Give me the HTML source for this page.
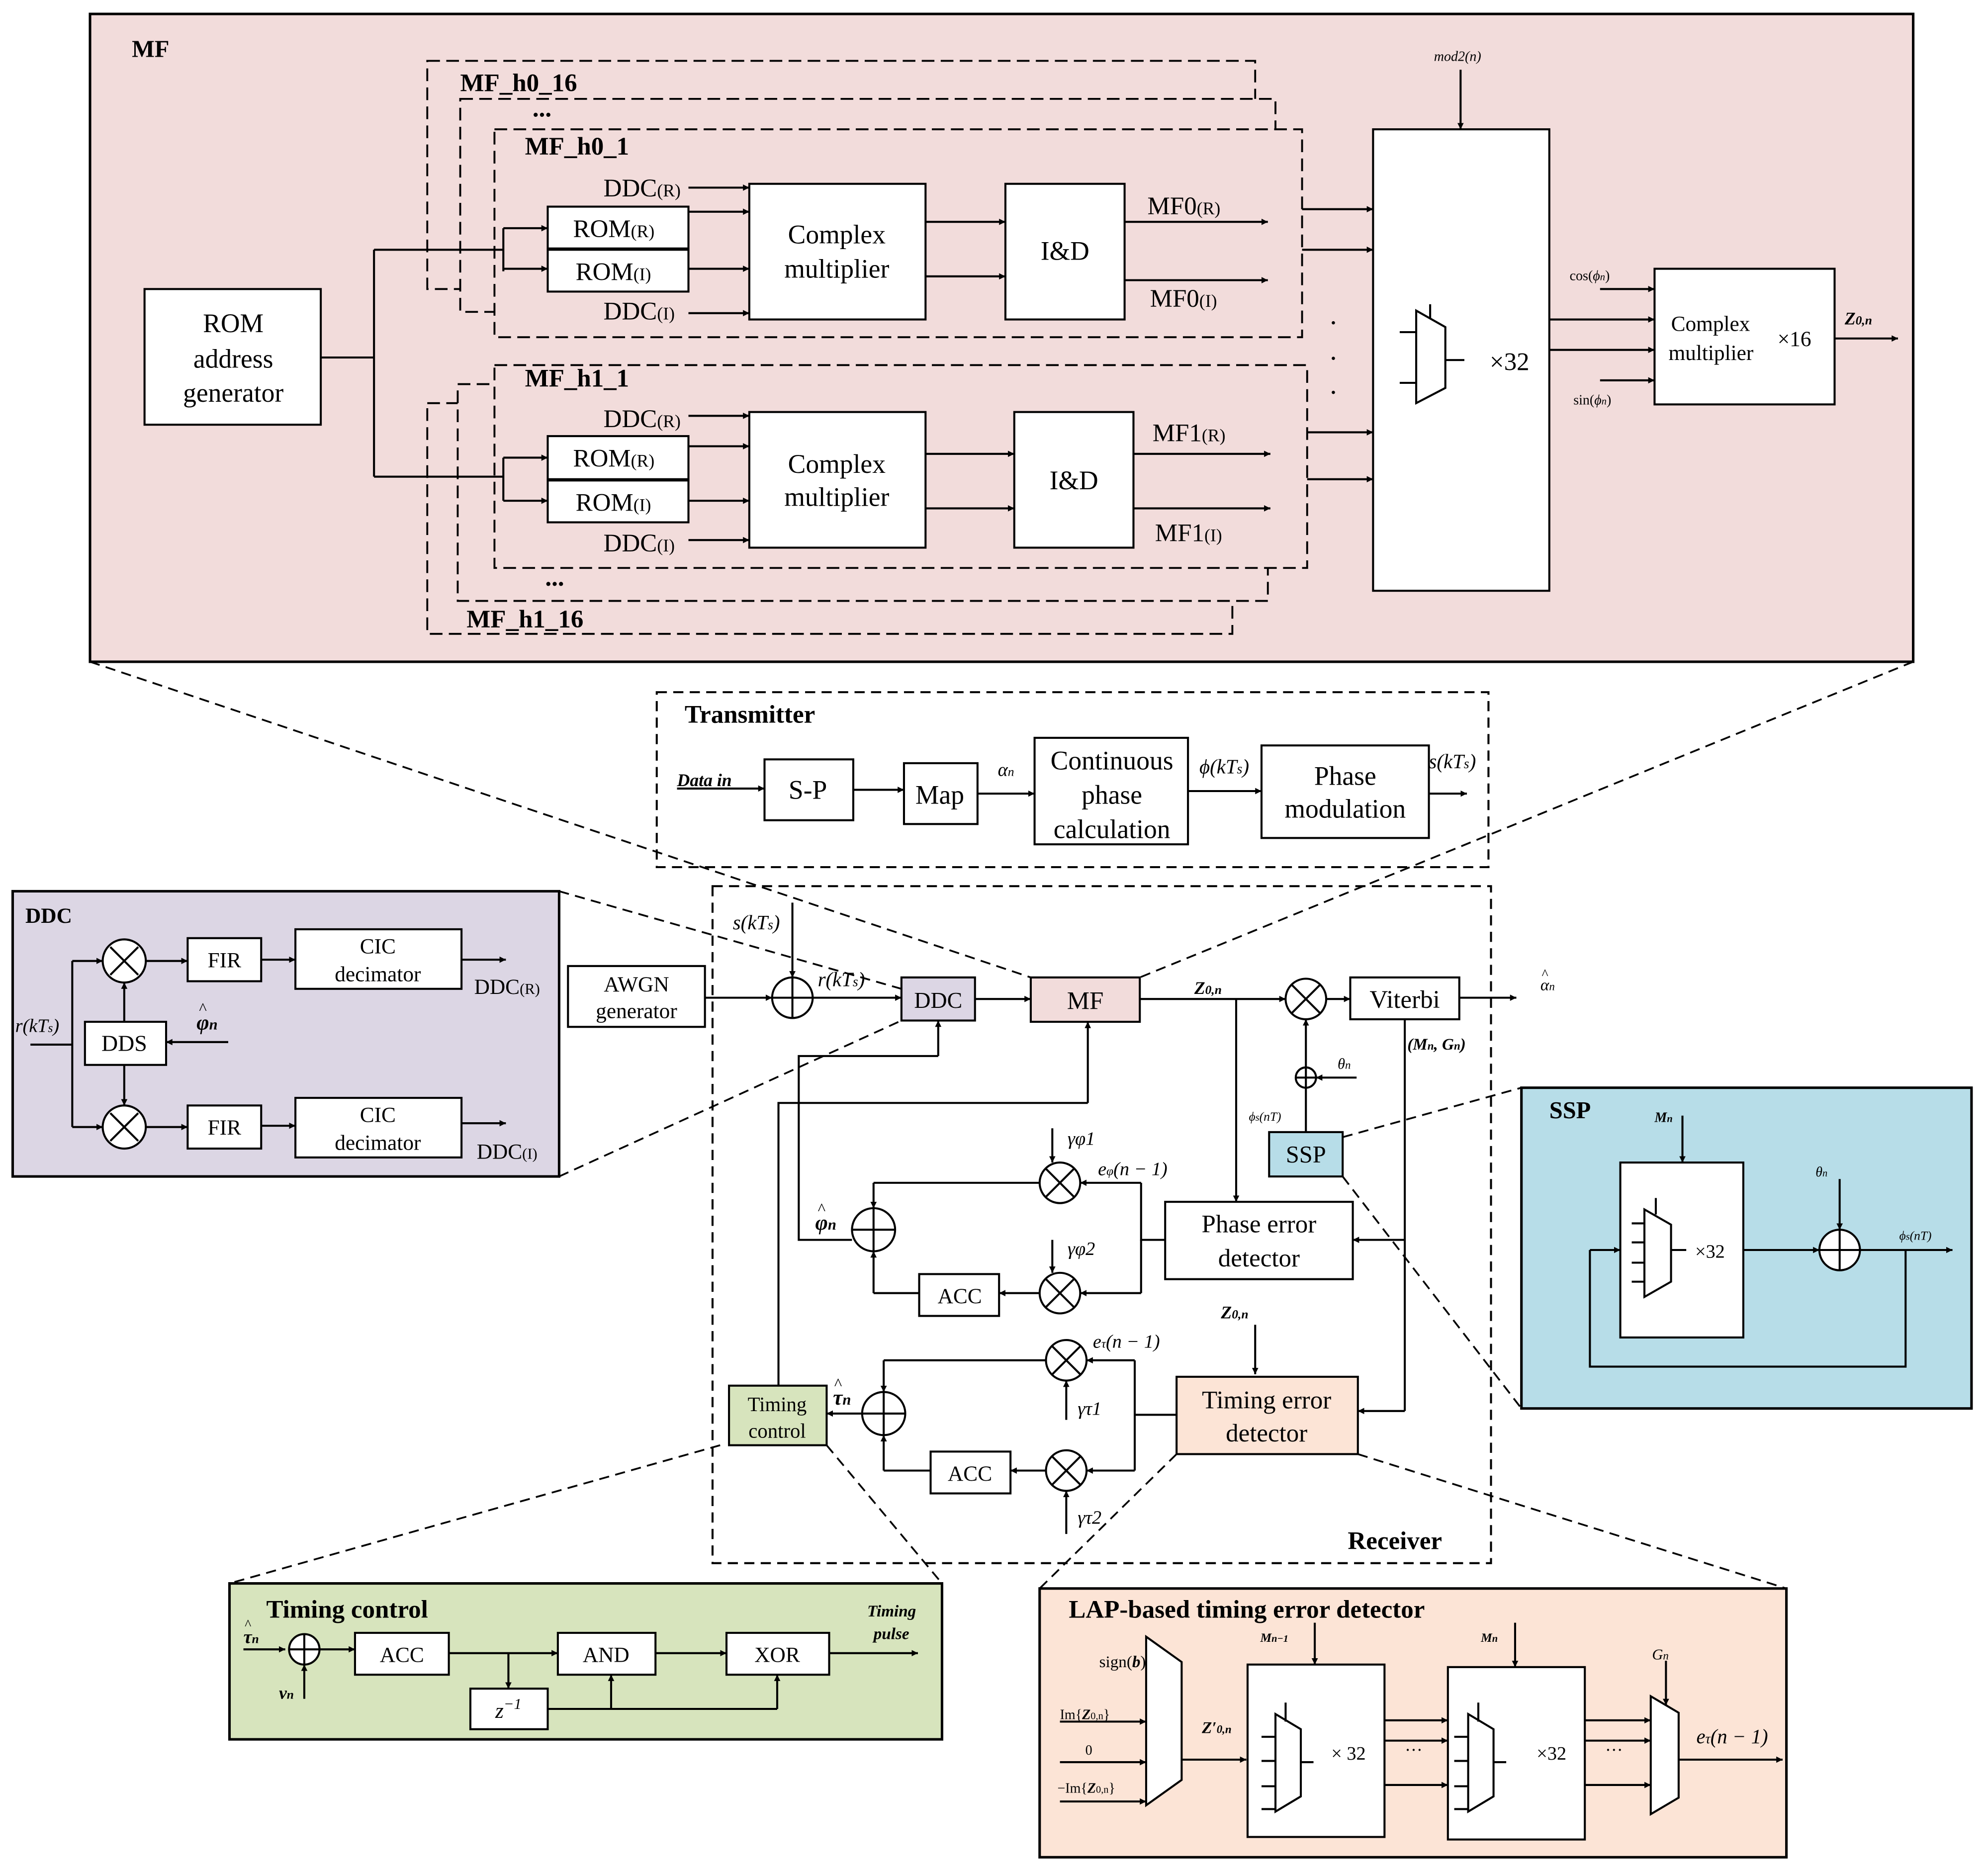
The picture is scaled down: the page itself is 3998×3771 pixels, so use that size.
<!DOCTYPE html>
<html><head><meta charset="utf-8"><style>
html,body{margin:0;padding:0;background:#fff}
svg{display:block}
text{font-family:"Liberation Serif",serif;fill:#000}
.b{font-weight:bold}
.i{font-style:italic}
</style></head><body>
<svg width="3998" height="3771" viewBox="0 0 1568 1479" preserveAspectRatio="none" xmlns="http://www.w3.org/2000/svg">
<defs>
<marker id="a" viewBox="0 0 10 10" refX="10" refY="5" markerWidth="5" markerHeight="5" orient="auto-start-reverse" markerUnits="userSpaceOnUse"><path d="M0,0 L10,5 L0,10 z" fill="#000"/></marker>
</defs>
<g stroke="#000" stroke-width="1.6" fill="none">
<g stroke-dasharray="8,5" stroke-width="1.4">
<line x1="71" y1="522" x2="813" y2="771"/><line x1="1509" y1="522" x2="899" y2="771"/>
<line x1="441" y1="703" x2="711" y2="780"/><line x1="441" y1="928" x2="711" y2="805"/>
<line x1="1059" y1="897" x2="1200" y2="858"/><line x1="1059" y1="928" x2="1200" y2="1111"/>
<line x1="568" y1="1140" x2="181" y2="1249"/><line x1="652" y1="1140" x2="743" y2="1249"/>
<line x1="928" y1="1147" x2="820" y2="1253"/><line x1="1071" y1="1147" x2="1409" y2="1253"/>
</g>
<rect x="71" y="11" width="1438" height="511" fill="#f2dcdb" stroke-width="2"/>
<g stroke-dasharray="10,5" fill="#f2dcdb" stroke-width="1.5">
<rect x="337" y="48" width="653" height="180"/><rect x="363" y="78" width="643" height="168"/><rect x="390" y="102" width="637" height="164"/>
<rect x="337" y="318" width="635" height="182"/><rect x="361" y="303" width="639" height="171"/><rect x="390" y="288" width="641" height="160"/>
</g>
<rect x="114" y="228" width="139" height="107" fill="#fff"/>
<polyline points="253,282 295,282"/><polyline points="295,197 295,376"/>
<polyline points="295,197 397,197"/><polyline points="295,376 397,376"/>
<polyline points="397,180 397,214"/><line x1="397" y1="180" x2="432" y2="180" marker-end="url(#a)"/><line x1="397" y1="212" x2="432" y2="212" marker-end="url(#a)"/>
<polyline points="397,361 397,395"/><line x1="397" y1="361" x2="432" y2="361" marker-end="url(#a)"/><line x1="397" y1="395" x2="432" y2="395" marker-end="url(#a)"/>
<rect x="432" y="163" width="111" height="33" fill="#fff"/><rect x="432" y="197" width="111" height="33" fill="#fff"/>
<rect x="591" y="145" width="139" height="107" fill="#fff"/><rect x="793" y="145" width="94" height="107" fill="#fff"/>
<line x1="543" y1="148" x2="591" y2="148" marker-end="url(#a)"/><line x1="543" y1="247" x2="591" y2="247" marker-end="url(#a)"/>
<line x1="543" y1="167" x2="591" y2="167" marker-end="url(#a)"/><line x1="543" y1="212" x2="591" y2="212" marker-end="url(#a)"/>
<line x1="730" y1="175" x2="793" y2="175" marker-end="url(#a)"/><line x1="730" y1="218" x2="793" y2="218" marker-end="url(#a)"/>
<line x1="887" y1="175" x2="1000" y2="175" marker-end="url(#a)"/><line x1="887" y1="221" x2="1000" y2="221" marker-end="url(#a)"/>
<rect x="432" y="344" width="111" height="34" fill="#fff"/><rect x="432" y="379" width="111" height="33" fill="#fff"/>
<rect x="591" y="325" width="139" height="107" fill="#fff"/><rect x="800" y="325" width="94" height="107" fill="#fff"/>
<line x1="543" y1="328" x2="591" y2="328" marker-end="url(#a)"/><line x1="543" y1="426" x2="591" y2="426" marker-end="url(#a)"/>
<line x1="543" y1="352" x2="591" y2="352" marker-end="url(#a)"/><line x1="543" y1="395" x2="591" y2="395" marker-end="url(#a)"/>
<line x1="730" y1="358" x2="800" y2="358" marker-end="url(#a)"/><line x1="730" y1="401" x2="800" y2="401" marker-end="url(#a)"/>
<line x1="894" y1="358" x2="1002" y2="358" marker-end="url(#a)"/><line x1="894" y1="401" x2="1002" y2="401" marker-end="url(#a)"/>
<rect x="1083" y="102" width="139" height="364" fill="#fff"/>
<line x1="1027" y1="165" x2="1083" y2="165" marker-end="url(#a)"/><line x1="1027" y1="197" x2="1083" y2="197" marker-end="url(#a)"/>
<line x1="1031" y1="341" x2="1083" y2="341" marker-end="url(#a)"/><line x1="1031" y1="378" x2="1083" y2="378" marker-end="url(#a)"/>
<line x1="1152" y1="55" x2="1152" y2="102" marker-end="url(#a)"/>
<polygon points="1117,245 1140,258 1140,306 1117,318"/><line x1="1128" y1="240" x2="1128" y2="251"/><line x1="1140" y1="284" x2="1155" y2="284"/>
<line x1="1104" y1="262" x2="1117" y2="262"/><line x1="1104" y1="302" x2="1117" y2="302"/>
<line x1="1262" y1="228" x2="1305" y2="228" marker-end="url(#a)"/><line x1="1222" y1="252" x2="1305" y2="252" marker-end="url(#a)"/>
<line x1="1222" y1="276" x2="1305" y2="276" marker-end="url(#a)"/><line x1="1262" y1="300" x2="1305" y2="300" marker-end="url(#a)"/>
<rect x="1305" y="212" width="142" height="107" fill="#fff"/>
<line x1="1447" y1="267" x2="1497" y2="267" marker-end="url(#a)"/>
<rect x="518" y="546" width="656" height="138" stroke-dasharray="8,5"/>
<rect x="603" y="599" width="70" height="48" fill="#fff"/><rect x="713" y="602" width="58" height="48" fill="#fff"/>
<rect x="816" y="582" width="121" height="84" fill="#fff"/><rect x="995" y="588" width="132" height="73" fill="#fff"/>
<line x1="534" y1="622" x2="603" y2="622" marker-end="url(#a)"/><line x1="673" y1="623" x2="713" y2="623" marker-end="url(#a)"/>
<line x1="771" y1="626" x2="816" y2="626" marker-end="url(#a)"/><line x1="937" y1="624" x2="995" y2="624" marker-end="url(#a)"/>
<line x1="1127" y1="626" x2="1157" y2="626" marker-end="url(#a)"/>
<rect x="562" y="699" width="614" height="534" stroke-dasharray="8,5"/>
<rect x="448" y="762" width="108" height="48" fill="#fff"/>
<line x1="556" y1="787" x2="609" y2="787" marker-end="url(#a)"/>
<circle cx="625" cy="787" r="16" fill="#fff"/><line x1="609" y1="787" x2="641" y2="787"/><line x1="625" y1="771" x2="625" y2="803"/>
<line x1="625" y1="712" x2="625" y2="771" marker-end="url(#a)"/>
<line x1="641" y1="787" x2="711" y2="787" marker-end="url(#a)"/>
<rect x="711" y="771" width="58" height="34" fill="#dcd6e4"/>
<line x1="769" y1="788" x2="813" y2="788" marker-end="url(#a)"/>
<rect x="813" y="771" width="86" height="35" fill="#f2dcdb"/>
<line x1="899" y1="788" x2="1014" y2="788" marker-end="url(#a)"/>
<circle cx="1030" cy="788" r="16" fill="#fff"/><line x1="1019" y1="777" x2="1041" y2="799"/><line x1="1041" y1="777" x2="1019" y2="799"/>
<line x1="1046" y1="788" x2="1065" y2="788" marker-end="url(#a)"/>
<rect x="1065" y="771" width="86" height="33" fill="#fff"/>
<line x1="1151" y1="787" x2="1196" y2="787" marker-end="url(#a)"/>
<line x1="975" y1="788" x2="975" y2="948" marker-end="url(#a)"/>
<rect x="919" y="948" width="148" height="61" fill="#fff"/>
<rect x="1001" y="893" width="58" height="35" fill="#b7dde8"/>
<line x1="1030" y1="893" x2="1030" y2="858"/>
<circle cx="1030" cy="850" r="8" fill="#fff"/><line x1="1022" y1="850" x2="1038" y2="850"/><line x1="1030" y1="842" x2="1030" y2="858"/>
<line x1="1030" y1="842" x2="1030" y2="804" marker-end="url(#a)"/>
<line x1="1070" y1="850" x2="1038" y2="850" marker-end="url(#a)"/>
<polyline points="1108,804 1108,1113"/>
<line x1="1108" y1="978" x2="1067" y2="978" marker-end="url(#a)"/>
<line x1="1108" y1="1113" x2="1071" y2="1113" marker-end="url(#a)"/>
<polyline points="919,978 900,978 900,933"/><line x1="900" y1="933" x2="852" y2="933" marker-end="url(#a)"/>
<polyline points="900,978 900,1020"/><line x1="900" y1="1020" x2="852" y2="1020" marker-end="url(#a)"/>
<circle cx="836" cy="933" r="16" fill="#fff"/><line x1="825" y1="922" x2="847" y2="944"/><line x1="847" y1="922" x2="825" y2="944"/>
<circle cx="836" cy="1020" r="16" fill="#fff"/><line x1="825" y1="1009" x2="847" y2="1031"/><line x1="847" y1="1009" x2="825" y2="1031"/>
<line x1="830" y1="890" x2="830" y2="917" marker-end="url(#a)"/><line x1="830" y1="978" x2="830" y2="1004" marker-end="url(#a)"/>
<polyline points="820,933 689,933"/><line x1="689" y1="933" x2="689" y2="953" marker-end="url(#a)"/>
<line x1="820" y1="1020" x2="788" y2="1020" marker-end="url(#a)"/>
<rect x="725" y="1005" width="63" height="33" fill="#fff"/>
<polyline points="725,1020 689,1020"/><line x1="689" y1="1020" x2="689" y2="987" marker-end="url(#a)"/>
<circle cx="689" cy="970" r="17" fill="#fff"/><line x1="672" y1="970" x2="706" y2="970"/><line x1="689" y1="953" x2="689" y2="987"/>
<polyline points="672,978 630,978 630,833 740,833"/><line x1="740" y1="833" x2="740" y2="805" marker-end="url(#a)"/>
<rect x="928" y="1086" width="143" height="61" fill="#fce4d6"/>
<line x1="990" y1="1045" x2="990" y2="1084" marker-end="url(#a)"/>
<polyline points="928,1116 895,1116 895,1073"/><line x1="895" y1="1073" x2="857" y2="1073" marker-end="url(#a)"/>
<polyline points="895,1116 895,1160"/><line x1="895" y1="1160" x2="857" y2="1160" marker-end="url(#a)"/>
<circle cx="841" cy="1073" r="16" fill="#fff"/><line x1="830" y1="1062" x2="852" y2="1084"/><line x1="852" y1="1062" x2="830" y2="1084"/>
<circle cx="841" cy="1160" r="16" fill="#fff"/><line x1="830" y1="1149" x2="852" y2="1171"/><line x1="852" y1="1149" x2="830" y2="1171"/>
<line x1="841" y1="1120" x2="841" y2="1089" marker-end="url(#a)"/><line x1="841" y1="1210" x2="841" y2="1176" marker-end="url(#a)"/>
<polyline points="825,1073 697,1073"/><line x1="697" y1="1073" x2="697" y2="1098" marker-end="url(#a)"/>
<line x1="825" y1="1160" x2="797" y2="1160" marker-end="url(#a)"/>
<rect x="734" y="1145" width="63" height="33" fill="#fff"/>
<polyline points="734,1160 697,1160"/><line x1="697" y1="1160" x2="697" y2="1132" marker-end="url(#a)"/>
<circle cx="697" cy="1115" r="17" fill="#fff"/><line x1="680" y1="1115" x2="714" y2="1115"/><line x1="697" y1="1098" x2="697" y2="1132"/>
<line x1="680" y1="1115" x2="652" y2="1115" marker-end="url(#a)"/>
<rect x="575" y="1093" width="77" height="47" fill="#d7e4bd"/>
<polyline points="614,1093 614,870 858,870"/><line x1="858" y1="870" x2="858" y2="806" marker-end="url(#a)"/>
<rect x="10" y="703" width="431" height="225" fill="#dcd6e4" stroke-width="2"/>
<line x1="24" y1="824" x2="57" y2="824"/><polyline points="57,758 57,889"/>
<line x1="57" y1="758" x2="81" y2="758" marker-end="url(#a)"/><line x1="57" y1="889" x2="81" y2="889" marker-end="url(#a)"/>
<circle cx="98" cy="758" r="17" fill="#fff"/><line x1="87" y1="747" x2="109" y2="769"/><line x1="109" y1="747" x2="87" y2="769"/>
<circle cx="98" cy="889" r="17" fill="#fff"/><line x1="87" y1="878" x2="109" y2="900"/><line x1="109" y1="878" x2="87" y2="900"/>
<rect x="67" y="806" width="64" height="34" fill="#fff"/>
<line x1="98" y1="806" x2="98" y2="775" marker-end="url(#a)"/><line x1="98" y1="840" x2="98" y2="872" marker-end="url(#a)"/>
<line x1="180" y1="822" x2="131" y2="822" marker-end="url(#a)"/>
<line x1="115" y1="758" x2="148" y2="758" marker-end="url(#a)"/><line x1="115" y1="889" x2="148" y2="889" marker-end="url(#a)"/>
<rect x="148" y="740" width="58" height="34" fill="#fff"/><rect x="148" y="872" width="58" height="34" fill="#fff"/>
<line x1="206" y1="757" x2="233" y2="757" marker-end="url(#a)"/><line x1="206" y1="888" x2="233" y2="888" marker-end="url(#a)"/>
<rect x="233" y="733" width="131" height="47" fill="#fff"/><rect x="233" y="866" width="131" height="47" fill="#fff"/>
<line x1="364" y1="757" x2="399" y2="757" marker-end="url(#a)"/><line x1="364" y1="886" x2="399" y2="886" marker-end="url(#a)"/>
<rect x="1200" y="858" width="355" height="253" fill="#b7dde8" stroke-width="2"/>
<line x1="1327" y1="880" x2="1327" y2="917" marker-end="url(#a)"/>
<rect x="1278" y="917" width="97" height="138" fill="#fff"/>
<polygon points="1297,954 1318,966 1318,1011 1297,1023"/><line x1="1306" y1="945" x2="1306" y2="958"/>
<line x1="1287" y1="965" x2="1297" y2="965"/><line x1="1287" y1="980" x2="1297" y2="980"/><line x1="1287" y1="996" x2="1297" y2="996"/><line x1="1287" y1="1011" x2="1297" y2="1011"/>
<line x1="1318" y1="986" x2="1330" y2="986"/>
<line x1="1375" y1="986" x2="1435" y2="986" marker-end="url(#a)"/>
<circle cx="1451" cy="986" r="16" fill="#fff"/><line x1="1435" y1="986" x2="1467" y2="986"/><line x1="1451" y1="970" x2="1451" y2="1002"/>
<line x1="1451" y1="930" x2="1451" y2="970" marker-end="url(#a)"/>
<line x1="1467" y1="986" x2="1540" y2="986" marker-end="url(#a)"/>
<polyline points="1503,986 1503,1078 1254,1078 1254,986"/><line x1="1254" y1="986" x2="1278" y2="986" marker-end="url(#a)"/>
<rect x="181" y="1249" width="562" height="123" fill="#d7e4bd" stroke-width="2"/>
<line x1="192" y1="1301" x2="225" y2="1301" marker-end="url(#a)"/>
<circle cx="240" cy="1301" r="12" fill="#fff"/><line x1="228" y1="1301" x2="252" y2="1301"/><line x1="240" y1="1289" x2="240" y2="1313"/>
<line x1="240" y1="1340" x2="240" y2="1313" marker-end="url(#a)"/>
<line x1="252" y1="1301" x2="280" y2="1301" marker-end="url(#a)"/>
<rect x="280" y="1288" width="74" height="33" fill="#fff"/>
<line x1="354" y1="1304" x2="440" y2="1304" marker-end="url(#a)"/>
<line x1="401" y1="1304" x2="401" y2="1332" marker-end="url(#a)"/>
<rect x="371" y="1332" width="61" height="32" fill="#fff"/>
<polyline points="432,1348 613,1348"/><line x1="482" y1="1348" x2="482" y2="1321" marker-end="url(#a)"/><line x1="613" y1="1348" x2="613" y2="1321" marker-end="url(#a)"/>
<rect x="440" y="1288" width="77" height="33" fill="#fff"/>
<line x1="517" y1="1304" x2="573" y2="1304" marker-end="url(#a)"/>
<rect x="573" y="1288" width="81" height="33" fill="#fff"/>
<line x1="654" y1="1304" x2="724" y2="1304" marker-end="url(#a)"/>
<rect x="820" y="1253" width="589" height="212" fill="#fce4d6" stroke-width="2"/>
<line x1="924" y1="1318" x2="924" y2="1344" marker-end="url(#a)"/>
<polygon points="904,1291 932,1311 932,1404 904,1424" fill="#fff"/>
<line x1="836" y1="1358" x2="904" y2="1358" marker-end="url(#a)"/><line x1="836" y1="1390" x2="904" y2="1390" marker-end="url(#a)"/><line x1="836" y1="1421" x2="904" y2="1421" marker-end="url(#a)"/>
<line x1="932" y1="1388" x2="983" y2="1388" marker-end="url(#a)"/>
<rect x="984" y="1313" width="108" height="136" fill="#fff"/>
<line x1="1037" y1="1280" x2="1037" y2="1313" marker-end="url(#a)"/>
<polygon points="1006,1352 1026,1364 1026,1417 1006,1429"/><line x1="1014" y1="1343" x2="1014" y2="1358"/>
<line x1="995" y1="1370" x2="1006" y2="1370"/><line x1="995" y1="1389" x2="1006" y2="1389"/><line x1="995" y1="1409" x2="1006" y2="1409"/><line x1="995" y1="1427" x2="1006" y2="1427"/>
<line x1="1026" y1="1390" x2="1036" y2="1390"/>
<line x1="1092" y1="1357" x2="1142" y2="1357" marker-end="url(#a)"/><line x1="1092" y1="1373" x2="1142" y2="1373" marker-end="url(#a)"/><line x1="1092" y1="1408" x2="1142" y2="1408" marker-end="url(#a)"/>
<rect x="1142" y="1315" width="108" height="136" fill="#fff"/>
<line x1="1195" y1="1280" x2="1195" y2="1315" marker-end="url(#a)"/>
<polygon points="1158,1352 1178,1364 1178,1417 1158,1429"/><line x1="1166" y1="1343" x2="1166" y2="1358"/>
<line x1="1147" y1="1370" x2="1158" y2="1370"/><line x1="1147" y1="1389" x2="1158" y2="1389"/><line x1="1147" y1="1409" x2="1158" y2="1409"/><line x1="1147" y1="1427" x2="1158" y2="1427"/>
<line x1="1178" y1="1390" x2="1188" y2="1390"/>
<line x1="1250" y1="1357" x2="1302" y2="1357" marker-end="url(#a)"/><line x1="1250" y1="1373" x2="1302" y2="1373" marker-end="url(#a)"/><line x1="1250" y1="1408" x2="1302" y2="1408" marker-end="url(#a)"/>
<line x1="1314" y1="1310" x2="1314" y2="1345" marker-end="url(#a)"/>
<polygon points="1302,1338 1324,1351 1324,1418 1302,1431" fill="#fff"/>
<line x1="1324" y1="1388" x2="1406" y2="1388" marker-end="url(#a)"/>
</g>
<g font-size="20">
<text x="104" y="45" class="b" font-size="19">MF</text>
<text x="363" y="72" class="b">MF_h0_16</text><text x="420" y="92" class="b">...</text>
<text x="414" y="122" class="b">MF_h0_1</text><text x="414" y="305" class="b">MF_h1_1</text>
<text x="430" y="462" class="b">...</text><text x="368" y="495" class="b">MF_h1_16</text>
<g text-anchor="middle" font-size="21">
<text x="184" y="262">ROM</text><text x="184" y="290">address</text><text x="184" y="317">generator</text>
<text x="660" y="192">Complex</text><text x="660" y="219">multiplier</text><text x="840" y="205">I&amp;D</text>
<text x="660" y="373">Complex</text><text x="660" y="399">multiplier</text><text x="847" y="386">I&amp;D</text>
</g>
<text x="452" y="187">ROM<tspan font-size="14">(R)</tspan></text><text x="454" y="221">ROM<tspan font-size="14">(I)</tspan></text>
<text x="476" y="155">DDC<tspan font-size="14">(R)</tspan></text><text x="476" y="252">DDC<tspan font-size="14">(I)</tspan></text>
<text x="905" y="169">MF0<tspan font-size="14">(R)</tspan></text><text x="907" y="242">MF0<tspan font-size="14">(I)</tspan></text>
<text x="452" y="368">ROM<tspan font-size="14">(R)</tspan></text><text x="454" y="403">ROM<tspan font-size="14">(I)</tspan></text>
<text x="476" y="337">DDC<tspan font-size="14">(R)</tspan></text><text x="476" y="435">DDC<tspan font-size="14">(I)</tspan></text>
<text x="909" y="348">MF1<tspan font-size="14">(R)</tspan></text><text x="911" y="427">MF1<tspan font-size="14">(I)</tspan></text>
<text x="1048" y="262" font-size="22">·</text><text x="1048" y="290" font-size="22">·</text><text x="1048" y="317" font-size="22">·</text>
<text x="1175" y="292">×32</text>
<text x="1131" y="48" class="i" font-size="11">mod2(n)</text>
<text x="1238" y="221" font-size="11">cos(<tspan class="i">ϕ<tspan font-size="8">n</tspan></tspan>)</text>
<text x="1241" y="319" font-size="11">sin(<tspan class="i">ϕ<tspan font-size="8">n</tspan></tspan>)</text>
<text x="1318" y="261" font-size="17">Complex</text><text x="1316" y="284" font-size="17">multiplier</text><text x="1402" y="273" font-size="17">×16</text>
<text x="1455" y="256" class="b i" font-size="14">Z<tspan font-size="10">0,n</tspan></text>
<text x="540" y="570" class="b">Transmitter</text>
<text x="534" y="620" class="b i" font-size="14">Data in</text>
<text x="622" y="630" font-size="21">S-P</text><text x="722" y="634" font-size="21">Map</text>
<text x="787" y="612" class="i" font-size="15">α<tspan font-size="10">n</tspan></text>
<g text-anchor="middle" font-size="21"><text x="877" y="607">Continuous</text><text x="877" y="634">phase</text><text x="877" y="661">calculation</text>
<text x="1061" y="619">Phase</text><text x="1061" y="645">modulation</text></g>
<text x="946" y="610" class="i" font-size="16">ϕ(kT<tspan font-size="11">s</tspan>)</text>
<text x="1127" y="606" class="i" font-size="16">s(kT<tspan font-size="11">s</tspan>)</text>
<text x="1063" y="1222" class="b">Receiver</text>
<text x="502" y="782" text-anchor="middle" font-size="17">AWGN</text><text x="502" y="803" text-anchor="middle" font-size="17">generator</text>
<text x="578" y="733" class="i" font-size="16">s(kT<tspan font-size="11">s</tspan>)</text>
<text x="645" y="778" class="i" font-size="16">r(kT<tspan font-size="11">s</tspan>)</text>
<text x="740" y="795" text-anchor="middle" font-size="18">DDC</text>
<text x="856" y="796" text-anchor="middle" font-size="20">MF</text>
<text x="942" y="784" class="b i" font-size="14">Z<tspan font-size="10">0,n</tspan></text>
<text x="1108" y="795" text-anchor="middle" font-size="20">Viterbi</text>
<text x="1215" y="781" class="i" font-size="13">α<tspan font-size="9">n</tspan></text><text x="1216" y="772" font-size="11">^</text>
<text x="1110" y="828" class="b i" font-size="13">(M<tspan font-size="9">n</tspan>, G<tspan font-size="9">n</tspan>)</text>
<text x="1055" y="843" class="i" font-size="12">θ<tspan font-size="9">n</tspan></text>
<text x="985" y="884" class="i" font-size="10">ϕ<tspan font-size="8">s</tspan>(nT)</text>
<text x="1030" y="917" text-anchor="middle" font-size="19">SSP</text>
<text x="993" y="972" text-anchor="middle" font-size="20">Phase error</text><text x="993" y="999" text-anchor="middle" font-size="20">detector</text>
<text x="842" y="903" class="i" font-size="15">γφ1</text><text x="842" y="990" class="i" font-size="15">γφ2</text>
<text x="866" y="927" class="i" font-size="15">e<tspan font-size="10">φ</tspan>(n − 1)</text>
<text x="757" y="1028" text-anchor="middle" font-size="17">ACC</text>
<text x="643" y="970" class="b i" font-size="17">φ<tspan font-size="12">n</tspan></text><text x="645" y="958" font-size="13">^</text>
<text x="963" y="1040" class="b i" font-size="14">Z<tspan font-size="10">0,n</tspan></text>
<text x="999" y="1111" text-anchor="middle" font-size="20">Timing error</text><text x="999" y="1137" text-anchor="middle" font-size="20">detector</text>
<text x="862" y="1063" class="i" font-size="15">e<tspan font-size="10">τ</tspan>(n − 1)</text>
<text x="850" y="1116" class="i" font-size="15">γτ1</text><text x="850" y="1202" class="i" font-size="15">γτ2</text>
<text x="765" y="1168" text-anchor="middle" font-size="17">ACC</text>
<text x="657" y="1108" class="b i" font-size="17">τ<tspan font-size="12">n</tspan></text><text x="658" y="1096" font-size="13">^</text>
<text x="613" y="1113" text-anchor="middle" font-size="16">Timing</text><text x="613" y="1134" text-anchor="middle" font-size="16">control</text>
<text x="20" y="728" class="b" font-size="17">DDC</text>
<text x="12" y="814" class="i" font-size="15">r(kT<tspan font-size="10">s</tspan>)</text>
<text x="98" y="829" text-anchor="middle" font-size="18">DDS</text>
<text x="155" y="812" class="b i" font-size="17">φ<tspan font-size="12">n</tspan></text><text x="157" y="800" font-size="13">^</text>
<text x="177" y="763" text-anchor="middle" font-size="17">FIR</text><text x="177" y="895" text-anchor="middle" font-size="17">FIR</text>
<text x="298" y="752" text-anchor="middle" font-size="17">CIC</text><text x="298" y="774" text-anchor="middle" font-size="17">decimator</text>
<text x="298" y="885" text-anchor="middle" font-size="17">CIC</text><text x="298" y="907" text-anchor="middle" font-size="17">decimator</text>
<text x="374" y="784" font-size="17">DDC<tspan font-size="12">(R)</tspan></text><text x="376" y="914" font-size="17">DDC<tspan font-size="12">(I)</tspan></text>
<text x="1222" y="882" class="b" font-size="19">SSP</text>
<text x="1305" y="885" class="b i" font-size="11">M<tspan font-size="8">n</tspan></text>
<text x="1432" y="928" class="i" font-size="11">θ<tspan font-size="8">n</tspan></text>
<text x="1337" y="992" font-size="15">×32</text>
<text x="1498" y="978" class="i" font-size="10">ϕ<tspan font-size="8">s</tspan>(nT)</text>
<text x="210" y="1276" class="b">Timing control</text>
<text x="192" y="1296" class="b i" font-size="15">τ<tspan font-size="10">n</tspan></text><text x="193" y="1285" font-size="11">^</text>
<text x="220" y="1340" class="b i" font-size="14">v<tspan font-size="10">n</tspan></text>
<text x="317" y="1311" text-anchor="middle" font-size="17">ACC</text>
<text x="401" y="1355" text-anchor="middle" class="i" font-size="17">z<tspan dy="-7" font-size="12">−1</tspan></text>
<text x="478" y="1311" text-anchor="middle" font-size="17">AND</text>
<text x="613" y="1311" text-anchor="middle" font-size="17">XOR</text>
<text x="684" y="1275" class="b i" font-size="13">Timing</text><text x="689" y="1293" class="b i" font-size="13">pulse</text>
<text x="843" y="1276" class="b">LAP-based timing error detector</text>
<text x="867" y="1315" font-size="13">sign(<tspan class="b i">b</tspan>)</text>
<text x="994" y="1295" class="b i" font-size="10">M<tspan font-size="8">n−1</tspan></text>
<text x="1168" y="1295" class="b i" font-size="10">M<tspan font-size="8">n</tspan></text>
<text x="1303" y="1309" class="i" font-size="12">G<tspan font-size="9">n</tspan></text>
<text x="836" y="1356" font-size="11">Im{<tspan class="b i">Z</tspan><tspan font-size="8">0,n</tspan>}</text>
<text x="856" y="1384" font-size="11">0</text>
<text x="834" y="1414" font-size="11">−Im{<tspan class="b i">Z</tspan><tspan font-size="8">0,n</tspan>}</text>
<text x="948" y="1367" class="b i" font-size="13">Z′<tspan font-size="9">0,n</tspan></text>
<text x="1050" y="1388" font-size="15">× 32</text><text x="1212" y="1388" font-size="15">×32</text>
<text x="1108" y="1385" font-size="14">···</text><text x="1266" y="1385" font-size="14">···</text>
<text x="1338" y="1375" class="i" font-size="16">e<tspan font-size="11">τ</tspan>(n − 1)</text>
</g>
</svg>
</body></html>
